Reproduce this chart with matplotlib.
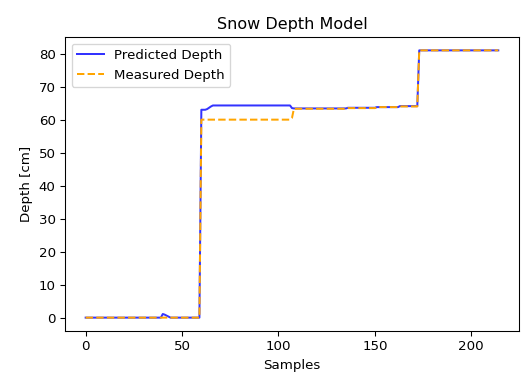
import numpy as np
import matplotlib
matplotlib.use("Agg")
import matplotlib.pyplot as plt

# Valores (en tramos: valor, repeticiones)
pred_vals = [0, 1.1, 0.9, 0.6, 0.3, 0, 63.0, 63.2, 63.6, 64.0, 64.3, 64.3, 63.5, 63.4, 63.6, 63.8, 64.1, 81.0]
pred_reps = [40, 1, 1, 1, 1, 16, 3, 1, 1, 1, 1, 40, 1, 28, 15, 12, 10, 42]

meas_vals = [0, 60.0, 60.5, 63.3, 63.5, 63.8, 64.0, 81.0]
meas_reps = [60, 47, 1, 28, 15, 12, 10, 42]

predicted = np.repeat(pred_vals, pred_reps)
measured = np.repeat(meas_vals, meas_reps)
samples = np.arange(len(predicted))

dpi = 96
fig = plt.figure(figsize=(521 / dpi, 376 / dpi), dpi=dpi)
ax = fig.add_axes([0.1248, 0.1197, 0.8712, 0.7819])

ax.plot(samples, predicted, color="blue", alpha=0.8, label="Predicted Depth")
ax.plot(samples, measured, color="orange", linestyle="--", label="Measured Depth")

ax.set_title("Snow Depth Model")
ax.set_xlabel("Samples")
ax.set_ylabel("Depth [cm]")
ax.legend(loc="upper left")

fig.savefig("out.png", dpi=dpi)
